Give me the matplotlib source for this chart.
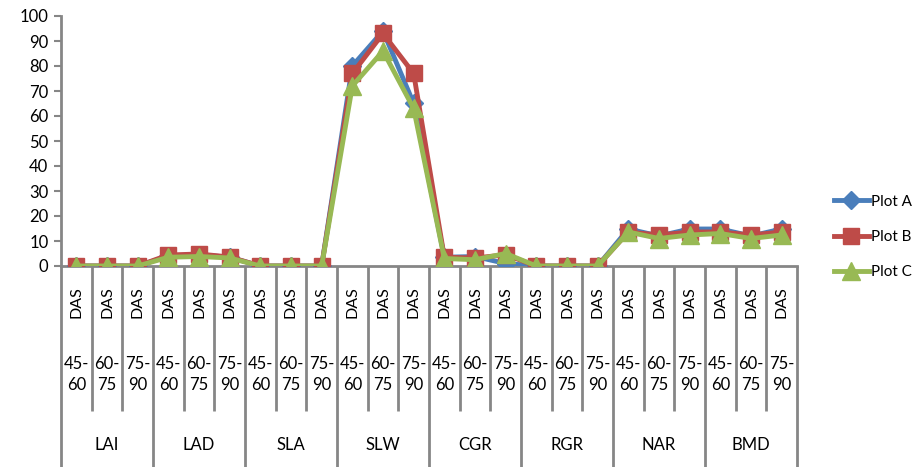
import matplotlib.pyplot as plt
import matplotlib.transforms as mtransforms

# categories: 8 growth parameters x 3 periods
groups = ["LAI", "LAD", "SLA", "SLW", "CGR", "RGR", "NAR", "BMD"]
periods = ["45-\n60", "60-\n75", "75-\n90"]

plot_a = [0, 0, 0, 4.0, 4.5, 3.5, 0, 0, 0, 80, 94, 65,
          3.5, 3.8, 1.0, 0, 0, 0, 14.8, 12.0, 14.8, 14.8, 12.0, 14.8]
plot_b = [0, 0, 0, 4.4, 4.8, 3.6, 0, 0, 0, 77, 93, 77,
          3.5, 3.2, 4.5, 0, 0, 0, 13.6, 12.4, 13.6, 13.6, 12.4, 13.6]
plot_c = [0, 0, 0, 3.5, 3.8, 3.2, 0, 0, 0, 72, 86, 63,
          3.0, 2.5, 5.0, 0, 0, 0, 13.6, 11.0, 12.4, 13.0, 11.0, 12.4]

gray = "#868686"
plt.rcParams['font.family'] = ['Lato', 'DejaVu Sans']

fig = plt.figure(figsize=(9.21, 4.67), dpi=100)
ax = fig.add_axes([61 / 921, 1 - 266 / 467, (797 - 61) / 921, 250 / 467])

n = len(plot_a)
x = list(range(n))
ax.plot(x, plot_a, color="#4A7EBB", lw=3.5, marker="D", ms=9, label="Plot A", zorder=3)
ax.plot(x, plot_b, color="#BE4B48", lw=3.5, marker="s", ms=12, label="Plot B", zorder=4)
ax.plot(x, plot_c, color="#98B954", lw=3.5, marker="^", ms=13, label="Plot C", zorder=5)

ax.set_xlim(-0.5, n - 0.5)
ax.set_ylim(0, 100)
ax.set_yticks(range(0, 101, 10))
ax.tick_params(axis="y", length=5, width=1.5, color=gray, labelsize=12, pad=4)
ax.set_xticks([])
for s in ["top", "right"]:
    ax.spines[s].set_visible(False)
ax.spines["bottom"].set_color(gray)
ax.spines["bottom"].set_linewidth(2)
ax.spines["left"].set_color(gray)
ax.spines["left"].set_linewidth(2)

# multi-level category axis
trans = mtransforms.blended_transform_factory(ax.transData, ax.transAxes)
for i in range(n + 1):
    xb = i - 0.5
    bottom = -0.81 if i % 3 == 0 else -0.58
    ax.plot([xb, xb], [0, bottom], transform=trans, color=gray, lw=2,
            clip_on=False, solid_capstyle="butt")
for i in range(n):
    ax.text(i, -0.145, "DAS", transform=trans, rotation=90, ha="center",
            va="center", fontsize=11.5)
    ax.text(i, -0.435, periods[i % 3], transform=trans, ha="center",
            va="center", fontsize=12, linespacing=1.35)
for g, name in enumerate(groups):
    ax.text(g * 3 + 1, -0.715, name, transform=trans, ha="center",
            va="center", fontsize=12)

fig.legend(loc="center left", bbox_to_anchor=(826 / 921, 1 - 237 / 467),
           frameon=False, fontsize=11, handlelength=2.3, handletextpad=0.15,
           labelspacing=1.4, borderpad=0)

fig.savefig("out.png", dpi=100)
